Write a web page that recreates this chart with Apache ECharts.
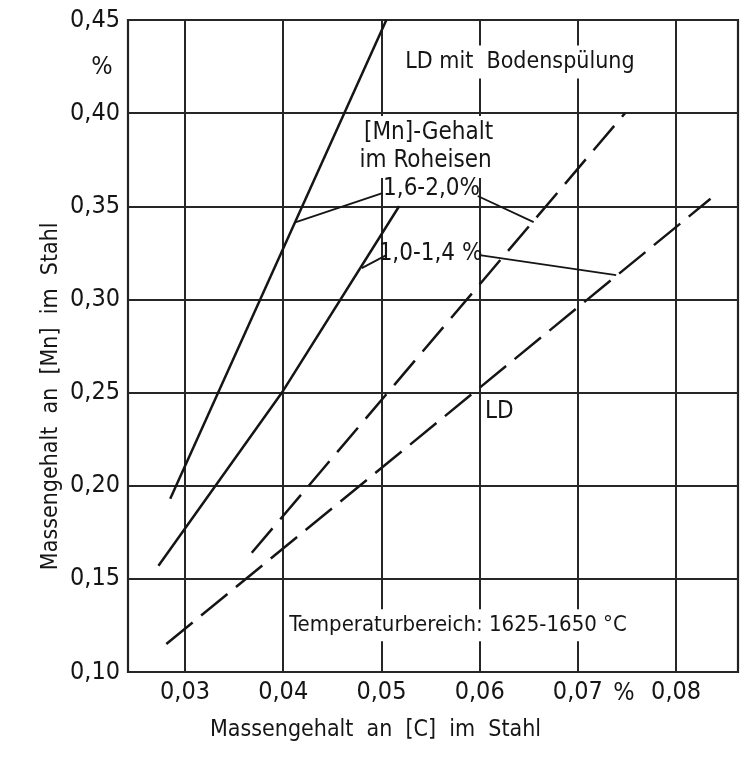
<!DOCTYPE html>
<html><head><meta charset="utf-8">
<script src="https://cdn.jsdelivr.net/npm/echarts@6/dist/echarts.min.js"></script>
<style>html,body{margin:0;padding:0;background:#fff}#c{width:755px;height:758px}</style>
</head><body><div id="c"></div>
<script>
// ---- data ----
const xTicks = [0.03, 0.04, 0.05, 0.06, 0.07, 0.08];
const yTicks = [0.10, 0.15, 0.20, 0.25, 0.30, 0.35, 0.40, 0.45];
// LD mit Bodenspülung, [Mn] im Roheisen 1,6–2,0 %
const bodenHigh = [[0.0285, 0.193], [0.0505, 0.450]];
// LD mit Bodenspülung, [Mn] im Roheisen 1,0–1,4 %
const bodenLow = [[0.0273, 0.157], [0.0400, 0.251], [0.0518, 0.350]];
// LD, 1,6–2,0 %
const ldHigh = [[0.0368, 0.164], [0.0748, 0.400]];
// LD, 1,0–1,4 %
const ldLow = [[0.0281, 0.115], [0.0835, 0.354]];
// leader lines from labels to curves
const leaderHighA = [[0.0501, 0.3571], [0.0413, 0.3415]];
const leaderHighB = [[0.0598, 0.3555], [0.0655, 0.3415]];
const leaderLowA = [[0.0505, 0.3238], [0.0480, 0.3168]];
const leaderLowB = [[0.0600, 0.3238], [0.0739, 0.3130]];
// annotation texts (data positions)
const notes = [
  {text: 'LD mit  Bodenspülung', x: 0.0641, y: 0.4274, bg: true, size: 23},
  {text: '[Mn]-Gehalt', x: 0.0548, y: 0.3893, bg: true, size: 24},
  {text: 'im Roheisen', x: 0.0545, y: 0.3743, bg: true, size: 24},
  {text: '1,6-2,0%', x: 0.0551, y: 0.3592, bg: false, size: 24},
  {text: '1,0-1,4 %', x: 0.0550, y: 0.3243, bg: false, size: 24},
  {text: 'LD', x: 0.0620, y: 0.2395, bg: false, size: 24},
  {text: 'Temperaturbereich: 1625-1650 °C', x: 0.0578, y: 0.1251, bg: true, size: 22}
];
const xName = 'Massengehalt  an  [C]  im  Stahl';
const yName = 'Massengehalt  an  [Mn]  im  Stahl';

const INK = '#151515';
const FONT = "'DejaVu Sans Condensed', 'DejaVu Sans', sans-serif";
const TICKFONT = "'Liberation Sans Narrow', 'DejaVu Sans Condensed', sans-serif";
const fmt = v => v.toFixed(2).replace('.', ',');

const chart = echarts.init(document.getElementById('c'), null, {renderer: 'canvas'});

function lineSeries(data, width, type) {
  return {
    type: 'line', data: data, symbol: 'none', silent: true, z: 3,
    lineStyle: {color: '#151515', width: width, type: type || 'solid', cap: 'butt'}
  };
}

chart.setOption({
  backgroundColor: '#ffffff',
  animation: false,
  grid: {left: 128, top: 20, right: 17, bottom: 86, show: true, borderColor: '#222', borderWidth: 2.2, containLabel: false},
  xAxis: {
    type: 'value', min: 0.0242, max: 0.0863,
    axisLine: {show: false},
    axisTick: {show: false, customValues: xTicks},
    axisLabel: {customValues: xTicks, formatter: fmt, color: INK, fontSize: 25, fontFamily: TICKFONT, margin: 8},
    splitLine: {show: true, lineStyle: {color: '#262626', width: 2}}
  },
  yAxis: {
    type: 'value', min: yTicks[0], max: yTicks[yTicks.length - 1], interval: 0.05,
    axisLine: {show: false},
    axisTick: {show: false},
    axisLabel: {formatter: fmt, color: INK, fontSize: 25, fontFamily: TICKFONT, margin: 8},
    splitLine: {show: true, lineStyle: {color: '#262626', width: 2}}
  },
  series: [
    lineSeries(bodenHigh, 2.5),
    lineSeries(bodenLow, 2.5),
    lineSeries(ldHigh, 2.5, [32, 12]),
    lineSeries(ldLow, 2.5, [34, 11]),
    lineSeries(leaderHighA, 1.8),
    lineSeries(leaderHighB, 1.8),
    lineSeries(leaderLowA, 1.8),
    lineSeries(leaderLowB, 1.8)
  ]
});

function px(x, y) { return chart.convertToPixel({gridIndex: 0}, [x, y]); }

const els = notes.map(n => {
  const p = px(n.x, n.y);
  return {
    type: 'text', x: p[0], y: p[1], z: 1, silent: true,
    style: {
      text: n.text, fill: INK, fontSize: n.size, fontFamily: FONT,
      align: 'center', verticalAlign: 'middle',
      backgroundColor: n.bg ? '#ffffff' : null, padding: n.bg ? [5, 2, 5, 2] : 0
    }
  };
});
const pX = px(0.0494, 0.10);
els.push({type: 'text', x: pX[0], y: pX[1] + 58, z: 5, style: {text: xName, fill: INK, fontSize: 23, fontFamily: FONT, align: 'center', verticalAlign: 'middle'}});
const pY = px(0.0242, 0.248);
els.push({type: 'text', x: 51, y: pY[1], rotation: Math.PI / 2, z: 5, style: {text: yName, fill: INK, fontSize: 23, fontFamily: FONT, align: 'center', verticalAlign: 'middle'}});
const pPy = px(0.0242, 0.4246);
els.push({type: 'text', x: pPy[0] - 26, y: pPy[1], z: 5, style: {text: '%', fill: INK, fontSize: 25, fontFamily: TICKFONT, align: 'center', verticalAlign: 'middle'}});
const pPx = px(0.0747, 0.10);
els.push({type: 'text', x: pPx[0], y: pPx[1] + 21, z: 5, style: {text: '%', fill: INK, fontSize: 25, fontFamily: TICKFONT, align: 'center', verticalAlign: 'middle'}});

chart.setOption({graphic: {elements: els}});
</script>
</body></html>
